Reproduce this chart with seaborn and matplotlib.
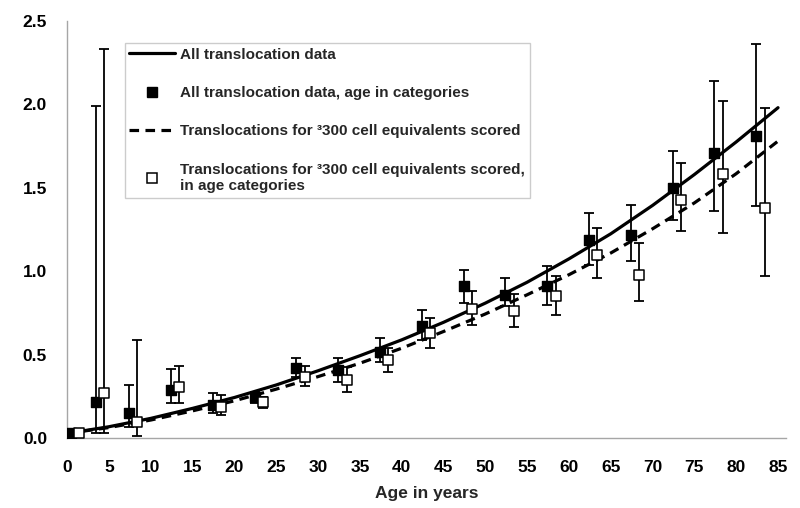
import numpy as np
import pandas as pd
import matplotlib
matplotlib.use('Agg')
import matplotlib.pyplot as plt
from matplotlib.lines import Line2D
import seaborn as sns

# Fitted curves, every 5 years
curve_age = [0, 5, 10, 15, 20, 25, 30, 35, 40, 45, 50, 55, 60, 65, 70, 75, 80, 85]
curve_all = [0.03, 0.07, 0.12, 0.18, 0.245, 0.32, 0.405, 0.495, 0.59, 0.695, 0.81,
             0.935, 1.075, 1.225, 1.395, 1.58, 1.775, 1.98]
curve_300 = [0.03, 0.065, 0.11, 0.165, 0.225, 0.295, 0.37, 0.45, 0.54, 0.64, 0.745,
             0.86, 0.98, 1.11, 1.255, 1.41, 1.585, 1.78]

# All translocation data, age in categories (mean, lower, upper)
age_all = [0.4, 3.4, 7.4, 12.4, 17.4, 22.4, 27.4, 32.4, 37.4, 42.4, 47.4, 52.4,
           57.4, 62.4, 67.4, 72.4, 77.4, 82.4]
rate_all = [0.03, 0.22, 0.15, 0.29, 0.20, 0.25, 0.42, 0.41, 0.52, 0.67, 0.91, 0.86,
            0.91, 1.19, 1.22, 1.50, 1.71, 1.81]
lo_all = [0.03, 0.03, 0.07, 0.21, 0.15, 0.21, 0.37, 0.34, 0.46, 0.59, 0.81, 0.79,
          0.80, 1.04, 1.06, 1.31, 1.36, 1.39]
hi_all = [0.03, 1.99, 0.32, 0.415, 0.27, 0.28, 0.48, 0.48, 0.60, 0.77, 1.01, 0.96,
          1.03, 1.35, 1.40, 1.72, 2.14, 2.36]

# Translocations for >=300 cell equivalents, age categories
age_300 = [1.4, 4.4, 8.4, 13.4, 18.4, 23.4, 28.4, 33.4, 38.4, 43.4, 48.4, 53.4,
           58.4, 63.4, 68.4, 73.4, 78.4, 83.4]
rate_300 = [0.03, 0.27, 0.10, 0.305, 0.19, 0.215, 0.37, 0.35, 0.47, 0.63, 0.775, 0.76,
            0.85, 1.10, 0.98, 1.43, 1.58, 1.38]
lo_300 = [0.03, 0.03, 0.016, 0.213, 0.14, 0.18, 0.315, 0.28, 0.40, 0.54, 0.68, 0.665,
          0.74, 0.96, 0.82, 1.24, 1.23, 0.97]
hi_300 = [0.03, 2.33, 0.59, 0.435, 0.26, 0.25, 0.435, 0.43, 0.54, 0.72, 0.885, 0.865,
          0.97, 1.26, 1.17, 1.65, 2.02, 1.98]

labels = ['All translocation data',
          'All translocation data, age in categories',
          'Translocations for \u00b3300 cell equivalents scored',
          'Translocations for \u00b3300 cell equivalents scored,\nin age categories']

sns.set_theme(style='white')
plt.rcParams['font.family'] = ['Liberation Sans', 'DejaVu Sans']
plt.rcParams['font.weight'] = 'bold'

curves = pd.DataFrame({'age': curve_age, 'all': curve_all, 'c300': curve_300})
pts_all = pd.DataFrame({'age': age_all, 'rate': rate_all, 'lo': lo_all, 'hi': hi_all})
pts_300 = pd.DataFrame({'age': age_300, 'rate': rate_300, 'lo': lo_300, 'hi': hi_300})

fig = plt.figure(figsize=(8, 5.08), dpi=100)
ax = fig.add_axes([0.084, 0.137, 0.899, 0.822])

dash = (0, (3, 2))
sns.lineplot(data=curves, x='age', y='all', ax=ax, color='black', lw=2.3, zorder=2)
sns.lineplot(data=curves, x='age', y='c300', ax=ax, color='black', lw=2.3, zorder=2,
             linestyle='--')
ax.lines[1].set_linestyle(dash)

for df in (pts_all, pts_300):
    yerr = [df['rate'] - df['lo'], df['hi'] - df['rate']]
    ax.errorbar(df['age'], df['rate'], yerr=yerr, fmt='none', ecolor='black',
                elinewidth=1.3, capsize=3.5, capthick=1.3, zorder=3)

sns.scatterplot(data=pts_all, x='age', y='rate', ax=ax, marker='s', s=55,
                color='black', edgecolor='black', linewidth=1, zorder=4)
sns.scatterplot(data=pts_300, x='age', y='rate', ax=ax, marker='s', s=55,
                color='white', edgecolor='black', linewidth=1.1, zorder=4)

ax.set_xlim(0, 86)
ax.set_ylim(0, 2.5)
ax.set_xticks(np.arange(0, 90, 5))
ax.set_yticks(np.arange(0, 2.6, 0.5))
ax.set_yticklabels([f'{v:.1f}' for v in np.arange(0, 2.6, 0.5)])
ax.set_xlabel('Age in years', fontsize=12.5, fontweight='bold', labelpad=8)
ax.set_ylabel('')

for s in ['top', 'right']:
    ax.spines[s].set_visible(False)
for s in ['left', 'bottom']:
    ax.spines[s].set_color('#a6a6a6')
    ax.spines[s].set_linewidth(1)
ax.tick_params(axis='both', direction='inout', length=9, width=0.8, color='#a6a6a6',
               labelsize=12.5, labelcolor='black')
ax.tick_params(axis='x', pad=11)
ax.tick_params(axis='y', pad=10)
for lab in ax.get_xticklabels() + ax.get_yticklabels():
    lab.set_fontweight('bold')

handles = [
    Line2D([], [], color='black', lw=2.3),
    Line2D([], [], color='black', marker='s', ls='none', markersize=7),
    Line2D([], [], color='black', lw=2.3, linestyle=dash),
    Line2D([], [], color='black', marker='s', ls='none', markersize=7,
           markerfacecolor='white', markeredgewidth=1.1),
]
leg = ax.legend(handles, labels, loc='upper left', bbox_to_anchor=(0.08, 0.947),
                borderaxespad=0, frameon=True, fancybox=False, framealpha=1,
                edgecolor='#cccccc', fontsize=11, labelspacing=1.6,
                handlelength=3.0, handletextpad=0.35, borderpad=0.3)
leg.get_frame().set_linewidth(1)
for t in leg.get_texts():
    t.set_fontweight('bold')

fig.savefig('out.png', dpi=100)
